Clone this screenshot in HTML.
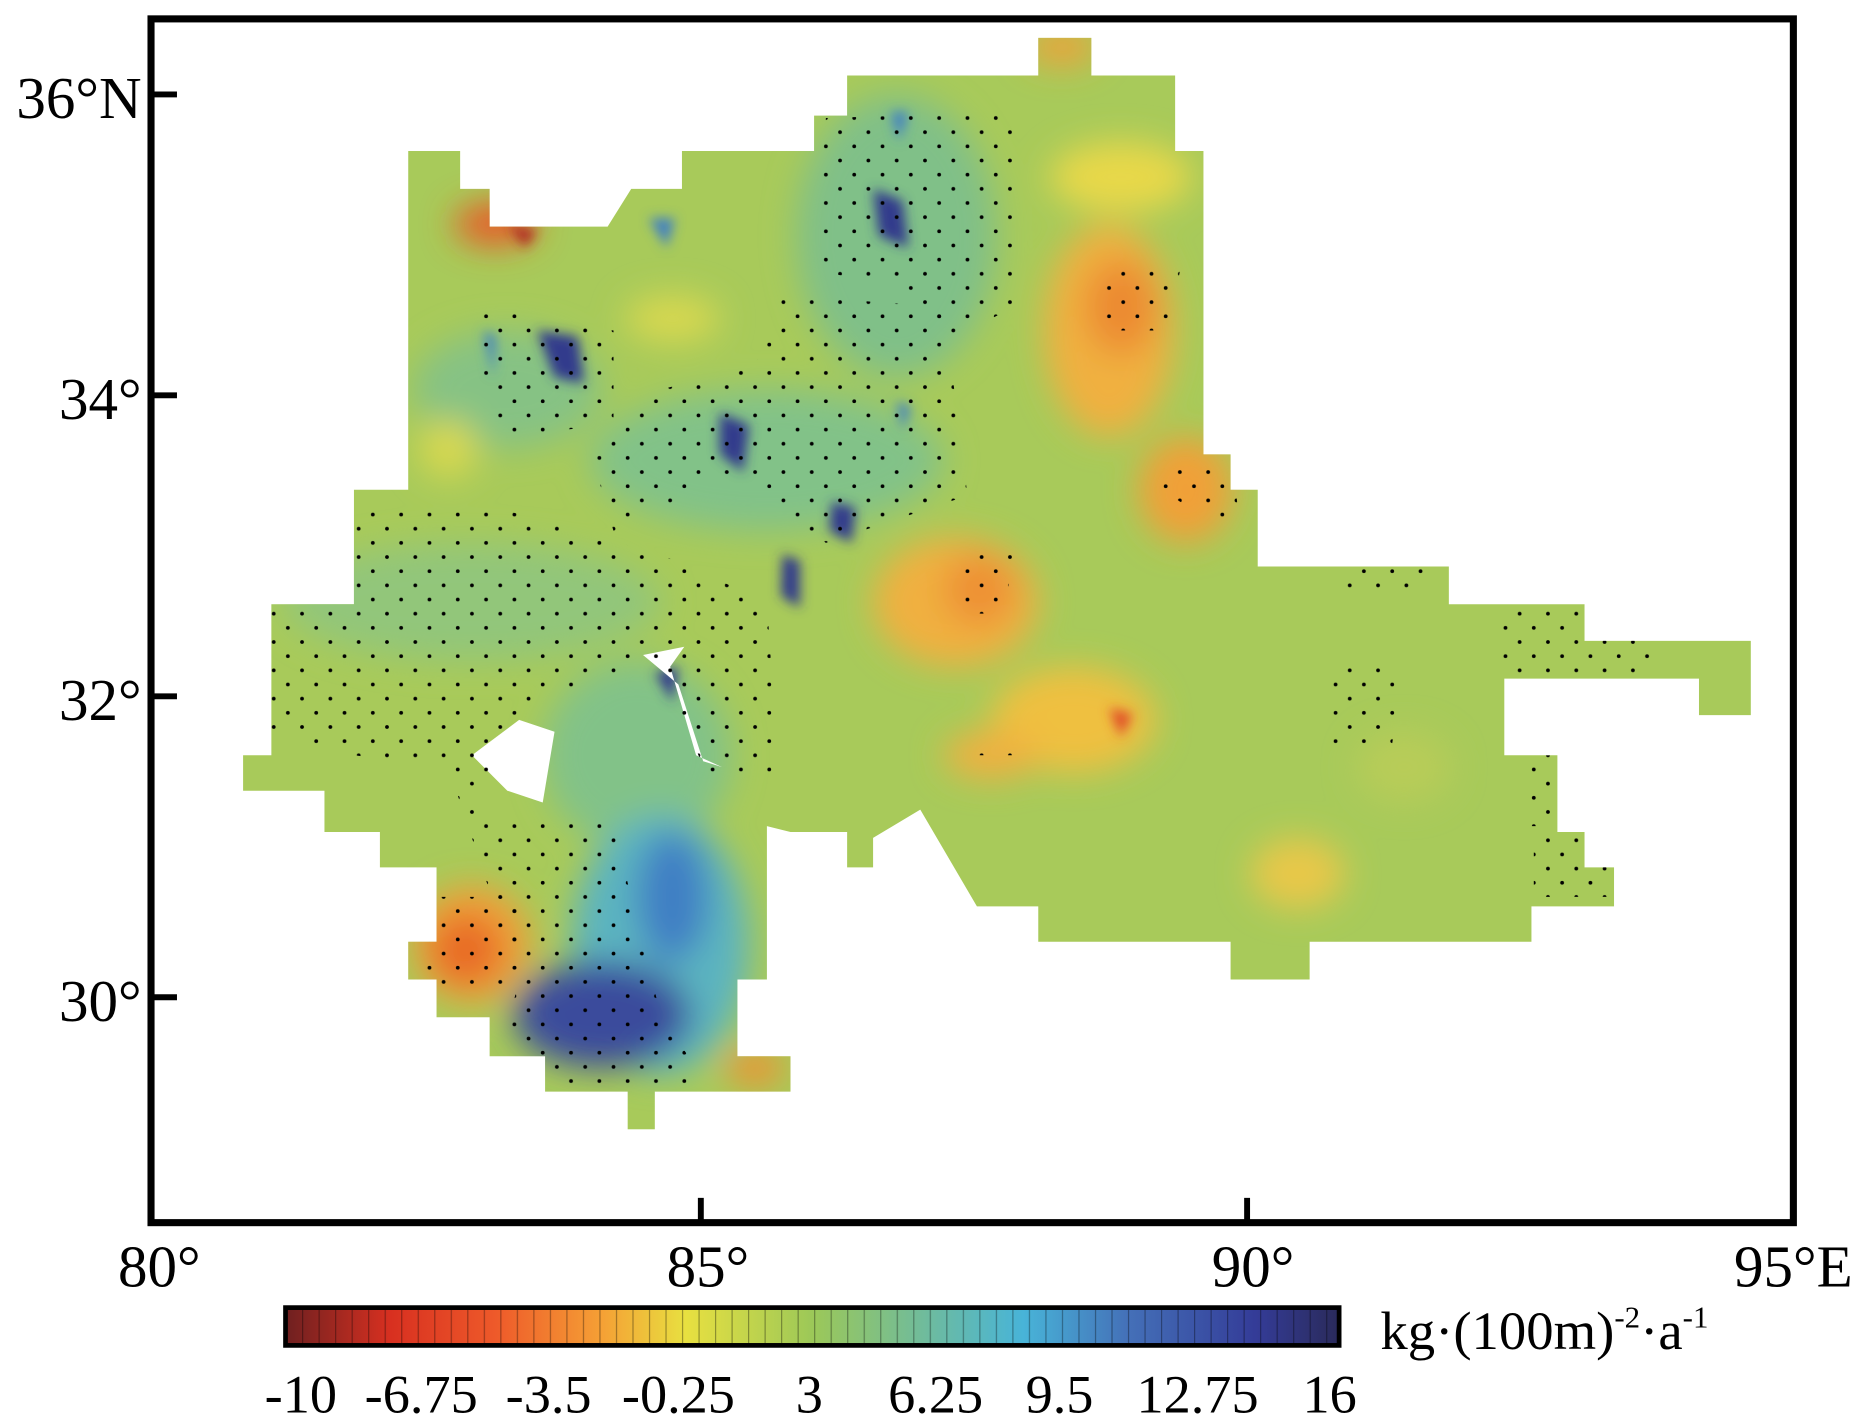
<!DOCTYPE html>
<html><head><meta charset="utf-8"><style>
html,body{margin:0;padding:0;background:#fff;width:1850px;height:1428px;overflow:hidden}
svg{display:block}
text{font-family:"Liberation Serif",serif;fill:#000}
</style></head><body>
<svg width="1850" height="1428" viewBox="0 0 1568 1210" preserveAspectRatio="none" xmlns="http://www.w3.org/2000/svg">
<defs>
<pattern id="dots" width="24" height="24" patternUnits="userSpaceOnUse">
<circle cx="4" cy="4" r="1.6" fill="#000"/><circle cx="16" cy="16" r="1.6" fill="#000"/>
</pattern>
<clipPath id="reg"><path d="M346,128 L390,128 L390,160 L415,160 L415,192 L515,192 L535,160 L578,160 L578,128 L690,128 L690,98 L718,98 L718,64 L880,64 L880,32 L925,32 L925,64 L996,64 L996,128 L1020,128 L1020,385 L1043,385 L1043,415 L1066,415 L1066,480 L1228,480 L1228,512 L1343,512 L1343,543 L1484,543 L1484,606 L1440,606 L1440,575 L1275,575 L1275,640 L1320,640 L1320,705 L1343,705 L1343,735 L1368,735 L1368,768 L1298,768 L1298,798 L1110,798 L1110,830 L1043,830 L1043,798 L880,798 L880,768 L828,768 L780,686 L740,710 L740,735 L718,735 L718,705 L670,705 L650,700 L650,830 L625,830 L625,895 L670,895 L670,925 L555,925 L555,957 L532,957 L532,925 L462,925 L462,895 L415,895 L415,862 L370,862 L370,830 L346,830 L346,798 L370,798 L370,735 L322,735 L322,705 L275,705 L275,670 L206,670 L206,640 L230,640 L230,512 L300,512 L300,415 L346,415 Z"/></clipPath>
<filter id="bl" x="-50%" y="-50%" width="200%" height="200%"><feGaussianBlur stdDeviation="14"/></filter>
<filter id="bl2" x="-50%" y="-50%" width="200%" height="200%"><feGaussianBlur stdDeviation="5"/></filter>
<linearGradient id="cb" x1="0" x2="1">
<stop offset="0" stop-color="#6e2020"/><stop offset="0.1" stop-color="#d83020"/><stop offset="0.2" stop-color="#ee5a2a"/>
<stop offset="0.3" stop-color="#f5a035"/><stop offset="0.38" stop-color="#e8e040"/><stop offset="0.5" stop-color="#9cc858"/>
<stop offset="0.6" stop-color="#72bc98"/><stop offset="0.7" stop-color="#48b4d8"/><stop offset="0.8" stop-color="#4470b8"/>
<stop offset="0.92" stop-color="#343c98"/><stop offset="1" stop-color="#2a2a5a"/>
</linearGradient>
<pattern id="seg" width="14" height="40" patternUnits="userSpaceOnUse" x="242"><rect x="0" y="0" width="1" height="40" fill="rgba(0,0,0,0.35)"/></pattern>
</defs>
<g clip-path="url(#reg)">
<rect x="200" y="30" width="1300" height="940" fill="#a8ca5a"/>
<g filter="url(#bl)">
<ellipse cx="760" cy="200" rx="85" ry="120" fill="#80c088"/>
<ellipse cx="650" cy="390" rx="150" ry="60" fill="#82c288"/>
<ellipse cx="430" cy="330" rx="80" ry="50" fill="#86c284"/>
<ellipse cx="400" cy="510" rx="160" ry="50" fill="#92c67a"/>
<ellipse cx="540" cy="640" rx="80" ry="80" fill="#82c288"/>
<ellipse cx="560" cy="800" rx="75" ry="110" fill="#5cb4c0"/>
<ellipse cx="510" cy="860" rx="75" ry="45" fill="#3a4c9c"/>
<ellipse cx="570" cy="760" rx="30" ry="55" fill="#3f7fc4"/>
<ellipse cx="400" cy="800" rx="50" ry="50" fill="#f0a038"/>
<ellipse cx="395" cy="805" rx="30" ry="30" fill="#e86a28"/>
<ellipse cx="940" cy="280" rx="55" ry="90" fill="#f0b040"/>
<ellipse cx="950" cy="260" rx="30" ry="40" fill="#ec8a30"/>
<ellipse cx="1005" cy="415" rx="40" ry="45" fill="#f0a038"/>
<ellipse cx="810" cy="510" rx="70" ry="55" fill="#f0b040"/>
<ellipse cx="830" cy="500" rx="30" ry="30" fill="#ee9034"/>
<ellipse cx="910" cy="610" rx="70" ry="45" fill="#efc040"/>
<ellipse cx="950" cy="150" rx="60" ry="30" fill="#e8d848"/>
<ellipse cx="1100" cy="740" rx="40" ry="30" fill="#e8c848"/>
<ellipse cx="840" cy="640" rx="40" ry="20" fill="#f0b040"/>
<ellipse cx="570" cy="270" rx="40" ry="20" fill="#d8d850"/>
<ellipse cx="380" cy="380" rx="25" ry="25" fill="#d8d850"/>
<ellipse cx="1190" cy="650" rx="40" ry="30" fill="#b8cc58"/>
<ellipse cx="420" cy="190" rx="35" ry="18" fill="#e85a28"/>
<ellipse cx="640" cy="905" rx="25" ry="15" fill="#f09030"/>
<ellipse cx="900" cy="40" rx="30" ry="15" fill="#f0a038"/>
</g>
<g filter="url(#bl2)">
<polygon points="740,160 765,170 770,210 745,200" fill="#323a8c"/>
<polygon points="455,280 490,285 495,325 470,320" fill="#323a8c"/>
<polygon points="610,350 635,360 630,400 610,385" fill="#323a8c"/>
<polygon points="705,425 725,430 722,460 703,450" fill="#323a8c"/>
<polygon points="663,470 678,475 678,515 662,505" fill="#323a8c"/>
<polygon points="555,570 575,565 570,595" fill="#323a8c"/>
<polygon points="410,280 420,285 418,320" fill="#3f7fc4"/>
<polygon points="755,95 770,95 762,120" fill="#3f7fc4"/>
<polygon points="760,340 772,345 765,365" fill="#3f7fc4"/>
<polygon points="550,185 572,185 565,210" fill="#3f7fc4"/>
<polygon points="430,190 455,195 445,210" fill="#b02a20"/>
<polygon points="940,600 960,605 950,625" fill="#e04a28"/>
</g>
<path d="M400,640 L440,610 L470,620 L460,680 L430,670 Z" fill="#fff"/>
<path d="M545,555 L580,548 L568,565 L590,640 L612,650 L596,645 L575,580 Z" fill="#fff"/>
<g fill="url(#dots)">
<polygon points="700,100 860,95 860,260 800,290 760,240 690,230"/>
<polygon points="660,250 800,260 820,420 700,460 620,400 520,450 500,380 560,330 640,310"/>
<polygon points="400,260 520,280 520,360 420,370"/>
<polygon points="230,430 420,430 560,470 650,510 660,660 600,660 560,560 440,600 400,680 440,700 480,690 520,700 560,860 600,920 450,920 430,870 440,830 380,650 300,640 230,620"/>
<polygon points="360,760 440,760 440,840 360,840"/>
<polygon points="930,230 1000,230 990,280 940,280"/>
<polygon points="985,390 1045,390 1050,440 1030,445 985,415"/>
<polygon points="815,470 860,470 850,520 815,520"/>
<polygon points="810,630 860,630 860,640 810,640"/>
<polygon points="1135,480 1210,480 1200,500 1140,500"/>
<polygon points="1130,560 1190,560 1180,630 1130,630"/>
<polygon points="1270,515 1340,515 1340,570 1270,570"/>
<polygon points="1345,540 1405,540 1405,570 1345,570"/>
<polygon points="1290,640 1320,640 1320,700 1290,700"/>
<polygon points="1300,705 1370,705 1370,760 1300,760"/>
</g>
</g>
<rect x="128" y="16" width="1392" height="1020" fill="none" stroke="#000" stroke-width="6"/>
<g stroke="#000" stroke-width="5">
<line x1="128" y1="80" x2="150" y2="80"/><line x1="128" y1="335" x2="150" y2="335"/>
<line x1="128" y1="590" x2="150" y2="590"/><line x1="128" y1="845" x2="150" y2="845"/>
<line x1="594" y1="1036" x2="594" y2="1015"/><line x1="1057" y1="1036" x2="1057" y2="1015"/>
</g>
<g font-size="50">
<text x="120" y="100" text-anchor="end">36°N</text>
<text x="120" y="355" text-anchor="end">34°</text>
<text x="120" y="610" text-anchor="end">32°</text>
<text x="120" y="865" text-anchor="end">30°</text>
<text x="135" y="1090" text-anchor="middle">80°</text>
<text x="600" y="1090" text-anchor="middle">85°</text>
<text x="1062" y="1090" text-anchor="middle">90°</text>
<text x="1520" y="1090" text-anchor="middle">95°E</text>
</g>
<rect x="242" y="1108" width="893" height="32" fill="url(#cb)" stroke="#000" stroke-width="4"/>
<rect x="244" y="1110" width="889" height="28" fill="url(#seg)"/>
<text x="1170" y="1143" font-size="46" textLength="278" lengthAdjust="spacingAndGlyphs">kg·(100m)<tspan font-size="26" dy="-18">-2</tspan><tspan dy="18">·a</tspan><tspan font-size="26" dy="-18">-1</tspan></text>
<g font-size="46" text-anchor="middle">
<text x="255" y="1197">-10</text><text x="357" y="1197">-6.75</text><text x="465" y="1197">-3.5</text>
<text x="575" y="1197">-0.25</text><text x="686" y="1197">3</text><text x="793" y="1197">6.25</text>
<text x="898" y="1197">9.5</text><text x="1015" y="1197">12.75</text><text x="1127" y="1197">16</text>
</g>
</svg>
</body></html>
